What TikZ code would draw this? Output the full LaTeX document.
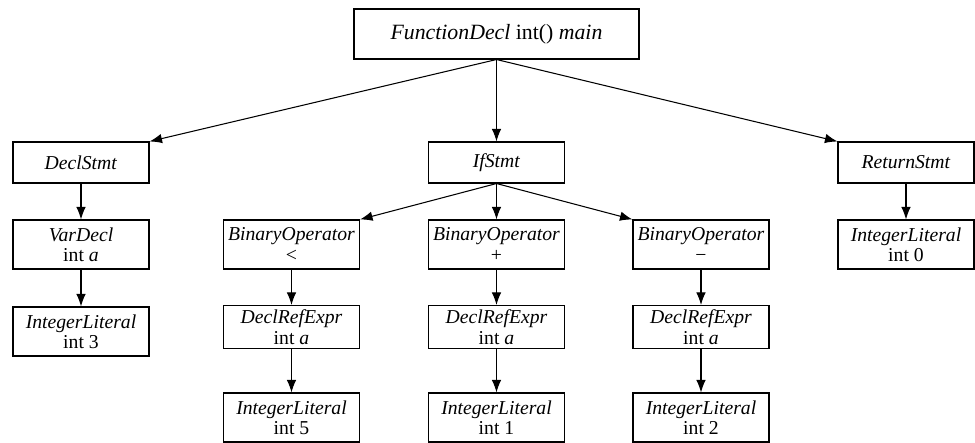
\documentclass[tikz,border=0pt]{standalone}
\usepackage{fontspec}
\setmainfont{Liberation Serif}
\usetikzlibrary{arrows.meta}

\begin{document}
\begin{tikzpicture}[->, >={Latex[length=2.5mm,width=1.9mm]}, line width=0.6pt,
            box/.style ={rectangle, draw, black, align=center, inner sep=0pt,
            minimum width =2.72cm, minimum height =0.82cm,
            font=\fontsize{11.2}{11.6}\selectfont},
            tbox/.style ={box, minimum height =0.98cm},
            rbox/.style ={box, minimum height =0.86cm}]

        \useasboundingbox (0,0) rectangle (19.5,8.86);

        %\node [estilo] (nombre) at (posicion) {};
        \node[box, minimum width =5.7cm, minimum height =1.0cm, font=\fontsize{12.4}{14}\selectfont] (fd) at (9.93, 8.18) {\textit{FunctionDecl} int() \textit{main}};
        \node[box] (ds) at (1.62, 5.61) {\textit{DeclStmt}};
        \node[box] (is) at (9.93, 5.61) {\textit{IfStmt}};
        \node[box] (rs) at (18.12, 5.61) {\textit{ReturnStmt}};

        \node[tbox] (vd) at (1.62, 3.97) {\textit{VarDecl}\\int \textit{a}};
        \node[tbox] (bo1) at (5.83, 3.97) {\textit{BinaryOperator}\\<};
        \node[tbox] (bo2) at (9.93, 3.97) {\textit{BinaryOperator}\\+};
        \node[tbox] (bo3) at (14.02, 3.97) {\textit{BinaryOperator}\\−};
        \node[tbox] (il0) at (18.12, 3.97) {\textit{IntegerLiteral}\\int 0};

        \node[tbox] (il3) at (1.62, 2.23) {\textit{IntegerLiteral}\\int 3};
        \node[rbox] (dr1) at (5.83, 2.32) {\textit{DeclRefExpr}\\int \textit{a}};
        \node[rbox] (dr2) at (9.93, 2.32) {\textit{DeclRefExpr}\\int \textit{a}};
        \node[rbox] (dr3) at (14.02, 2.32) {\textit{DeclRefExpr}\\int \textit{a}};

        \node[tbox] (il5) at (5.83, 0.51) {\textit{IntegerLiteral}\\int 5};
        \node[tbox] (il1) at (9.93, 0.51) {\textit{IntegerLiteral}\\int 1};
        \node[tbox] (il2) at (14.02, 0.51) {\textit{IntegerLiteral}\\int 2};

        % raiz
        \path (fd.south) edge (ds.north east);
        \path (fd.south) edge (is.north);
        \path (fd.south) edge (rs.north west);

        \path (ds) edge (vd);
        \path (vd) edge (il3);

        \path (is.south) edge (bo1.north east);
        \path (is) edge (bo2);
        \path (is.south) edge (bo3.north west);

        \path (bo1) edge (dr1);
        \path (dr1) edge (il5);
        \path (bo2) edge (dr2);
        \path (dr2) edge (il1);
        \path (bo3) edge (dr3);
        \path (dr3) edge (il2);

        \path (rs) edge (il0);
    \end{tikzpicture}
\end{document}
